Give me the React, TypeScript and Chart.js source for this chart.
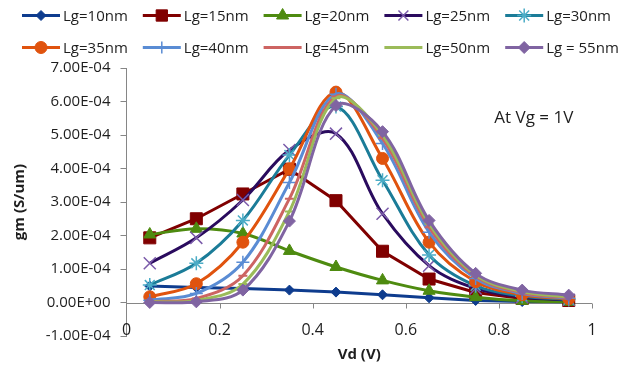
import React, { useEffect, useRef } from 'react';
import { Chart, registerables } from 'chart.js';

Chart.register(...registerables);

// Drain voltage Vd (V)
const vdValues = [0.05, 0.15, 0.25, 0.35, 0.45, 0.55, 0.65, 0.75, 0.85, 0.95];

// gm values, in units of 1E-04 S/um
const gmLg10 = [0.49, 0.45, 0.42, 0.37, 0.31, 0.23, 0.14, 0.06, 0.03, 0.02];
const gmLg15 = [1.93, 2.5, 3.24, 3.98, 3.04, 1.53, 0.7, 0.3, 0.12, 0.06];
const gmLg20 = [2.03, 2.2, 2.06, 1.54, 1.06, 0.66, 0.35, 0.16, 0.05, 0.02];
const gmLg25 = [1.17, 1.93, 3.06, 4.55, 5.04, 2.65, 1.1, 0.42, 0.16, 0.08];
const gmLg30 = [0.52, 1.17, 2.45, 4.4, 5.85, 3.65, 1.42, 0.5, 0.19, 0.09];
const gmLg35 = [0.17, 0.56, 1.8, 3.99, 6.28, 4.3, 1.8, 0.62, 0.23, 0.11];
const gmLg40 = [0.07, 0.27, 1.2, 3.58, 6.22, 4.75, 2.1, 0.72, 0.27, 0.13];
const gmLg45 = [0.03, 0.12, 0.8, 3.1, 6.15, 4.9, 2.25, 0.78, 0.3, 0.15];
const gmLg50 = [0.02, 0.06, 0.55, 2.72, 6.1, 5.0, 2.35, 0.82, 0.33, 0.17];
const gmLg55 = [0.0, 0.02, 0.37, 2.43, 5.88, 5.1, 2.45, 0.87, 0.37, 0.22];

const seriesLabels = [
  'Lg=10nm', 'Lg=15nm', 'Lg=20nm', 'Lg=25nm', 'Lg=30nm',
  'Lg=35nm', 'Lg=40nm', 'Lg=45nm', 'Lg=50nm', 'Lg = 55nm',
];
const seriesValues = [gmLg10, gmLg15, gmLg20, gmLg25, gmLg30, gmLg35, gmLg40, gmLg45, gmLg50, gmLg55];

const xTickLabels = ['0', '0.2', '0.4', '0.6', '0.8', '1'];
const yTickLabels = [
  '-1.00E-04', '0.00E+00', '1.00E-04', '2.00E-04', '3.00E-04',
  '4.00E-04', '5.00E-04', '6.00E-04', '7.00E-04',
];
const xTitle = 'Vd (V)';
const yTitle = 'gm (S/um)';
const annotationText = 'At Vg = 1V';

// Styling
const lineColors = ['#0E3C8E', '#800000', '#4E8B10', '#2A0B5E', '#1B7C98', '#E0530E', '#5A8CD4', '#CD6462', '#9BBB59', '#8064A2'];
const markerColors = ['#0E3C8E', '#800000', '#4E8B10', '#7B5BAA', '#4BACC6', '#E0530E', '#5A8CD4', '#CD6462', '#9BBB59', '#8064A2'];
const markerStyles = ['rectRot', 'rect', 'triangle', 'crossRot', 'star', 'circle', 'cross', 'line', 'line', 'rectRot'];
const markerRadii = [5, 8.5, 7, 8.5, 7, 6, 6.5, 4.5, 4.5, 6];
const markerBorders = [1, 1, 1, 1.5, 1.5, 1, 1.5, 2, 2, 1];
const lineTensions = [0, 0, 0.35, 0.35, 0.35, 0.35, 0.35, 0.35, 0.35, 0.35];
const legendMarkerRadii = [5, 8, 7, 7, 7, 6, 6, 0, 0, 6];

const FONT = "'Open Sans', sans-serif";
const TEXT_COLOR = '#1e1e1e';
const AXIS_COLOR = '#868686';

function drawMarker(ctx: CanvasRenderingContext2D, style: string, x: number, y: number, r: number, color: string, bw: number) {
  if (r <= 0) return;
  ctx.save();
  ctx.fillStyle = color;
  ctx.strokeStyle = color;
  ctx.lineWidth = bw;
  ctx.beginPath();
  const d = r * Math.SQRT1_2;
  switch (style) {
    case 'rectRot':
      ctx.moveTo(x, y - r); ctx.lineTo(x + r, y); ctx.lineTo(x, y + r); ctx.lineTo(x - r, y); ctx.closePath();
      ctx.fill(); ctx.stroke(); break;
    case 'rect':
      ctx.rect(x - d, y - d, 2 * d, 2 * d); ctx.fill(); ctx.stroke(); break;
    case 'triangle': {
      let a = 0;
      ctx.moveTo(x + Math.sin(a) * r, y - Math.cos(a) * r);
      a += (2 * Math.PI) / 3;
      ctx.lineTo(x + Math.sin(a) * r, y - Math.cos(a) * r);
      a += (2 * Math.PI) / 3;
      ctx.lineTo(x + Math.sin(a) * r, y - Math.cos(a) * r);
      ctx.closePath(); ctx.fill(); ctx.stroke(); break;
    }
    case 'circle':
      ctx.arc(x, y, r, 0, Math.PI * 2); ctx.fill(); ctx.stroke(); break;
    case 'crossRot':
      ctx.moveTo(x - d, y - d); ctx.lineTo(x + d, y + d); ctx.moveTo(x - d, y + d); ctx.lineTo(x + d, y - d); ctx.stroke(); break;
    case 'cross':
      ctx.moveTo(x, y - r); ctx.lineTo(x, y + r); ctx.moveTo(x - r, y); ctx.lineTo(x + r, y); ctx.stroke(); break;
    case 'star':
      ctx.moveTo(x, y - r); ctx.lineTo(x, y + r); ctx.moveTo(x - r, y); ctx.lineTo(x + r, y);
      ctx.moveTo(x - d, y - d); ctx.lineTo(x + d, y + d); ctx.moveTo(x - d, y + d); ctx.lineTo(x + d, y - d); ctx.stroke(); break;
    default:
      break;
  }
  ctx.restore();
}

const LEGEND_LEFT = 22;
const LEGEND_COL = 120.8;
const LEGEND_TOP = 15.5;
const LEGEND_ROW = 32;
const LEGEND_LINE = 38;

const legendPlugin = {
  id: 'excelLegend',
  afterDraw(chart: any) {
    const ctx: CanvasRenderingContext2D = chart.ctx;
    ctx.save();
    seriesLabels.forEach((label, i) => {
      const col = i % 5;
      const row = Math.floor(i / 5);
      const x0 = LEGEND_LEFT + col * LEGEND_COL;
      const y = LEGEND_TOP + row * LEGEND_ROW;
      ctx.strokeStyle = lineColors[i];
      ctx.lineWidth = 3;
      ctx.beginPath();
      ctx.moveTo(x0, y);
      ctx.lineTo(x0 + LEGEND_LINE, y);
      ctx.stroke();
      drawMarker(ctx, markerStyles[i], x0 + LEGEND_LINE / 2, y, legendMarkerRadii[i], markerColors[i], markerBorders[i]);
      ctx.font = `15px ${FONT}`;
      ctx.fillStyle = TEXT_COLOR;
      ctx.textAlign = 'left';
      ctx.textBaseline = 'middle';
      ctx.fillText(label, x0 + LEGEND_LINE + 3, y + 1);
    });
    ctx.restore();
  },
};

const zeroAxisPlugin = {
  id: 'zeroAxis',
  beforeDatasetsDraw(chart: any) {
    const { ctx, scales } = chart;
    const xs = scales.x;
    const ys = scales.y;
    const y0 = Math.round(ys.getPixelForValue(0)) + 0.5;
    ctx.save();
    ctx.strokeStyle = AXIS_COLOR;
    ctx.lineWidth = 1;
    ctx.beginPath();
    ctx.moveTo(xs.getPixelForValue(0), y0);
    ctx.lineTo(xs.getPixelForValue(1), y0);
    xs.ticks.forEach((t: any) => {
      if (t.value === 0) return;
      const px = Math.round(xs.getPixelForValue(t.value)) + 0.5;
      ctx.moveTo(px, y0);
      ctx.lineTo(px, y0 + 5);
    });
    ctx.stroke();
    ctx.restore();
  },
};

// x tick labels are drawn at the bottom of the plot (Excel "low" label position)
const xLabelsPlugin = {
  id: 'xLowLabels',
  afterDraw(chart: any) {
    const { ctx, scales } = chart;
    const xs = scales.x;
    const ys = scales.y;
    const yBase = ys.getPixelForValue(ys.min) - 6;
    ctx.save();
    ctx.font = `16px ${FONT}`;
    ctx.fillStyle = TEXT_COLOR;
    ctx.textAlign = 'center';
    ctx.textBaseline = 'middle';
    xs.ticks.forEach((t: any) => {
      const label = xTickLabels[Math.round(Number(t.value) * 5)];
      if (label === undefined) return;
      ctx.fillText(label, xs.getPixelForValue(t.value), yBase);
    });
    ctx.restore();
  },
};

const ANNOT_X = 0.875;
const ANNOT_Y = 5.5;

const annotationPlugin = {
  id: 'annot',
  afterDraw(chart: any) {
    const { ctx, scales } = chart;
    ctx.save();
    ctx.font = `17px ${FONT}`;
    ctx.fillStyle = TEXT_COLOR;
    ctx.textAlign = 'center';
    ctx.textBaseline = 'middle';
    ctx.fillText(annotationText, scales.x.getPixelForValue(ANNOT_X), scales.y.getPixelForValue(ANNOT_Y));
    ctx.restore();
  },
};

export default function App() {
  const canvasRef = useRef<HTMLCanvasElement | null>(null);

  useEffect(() => {
    const canvas = canvasRef.current;
    if (!canvas) return;
    const n = seriesValues.length;
    const chart = new Chart(canvas, {
      type: 'line',
      data: {
        datasets: seriesValues.map((vals, i) => ({
          label: seriesLabels[i],
          data: vdValues.map((x, j) => ({ x, y: vals[j] })),
          borderColor: lineColors[i],
          backgroundColor: markerColors[i],
          pointBackgroundColor: markerColors[i],
          pointBorderColor: markerColors[i],
          pointStyle: markerStyles[i] as any,
          pointRadius: markerRadii[i],
          pointBorderWidth: markerBorders[i],
          borderWidth: 3,
          tension: lineTensions[i],
          fill: false,
          order: n - i,
        })),
      },
      options: {
        responsive: false,
        animation: false,
        devicePixelRatio: 1,
        layout: { padding: { top: 68, right: 37, left: 0, bottom: 0 } },
        plugins: {
          legend: { display: false },
          tooltip: { enabled: false },
        },
        scales: {
          x: {
            type: 'linear',
            min: 0,
            max: 1,
            ticks: {
              stepSize: 0.2,
              display: false,
            },
            grid: { display: false, drawTicks: false },
            border: { display: false },
            title: {
              display: true,
              text: xTitle,
              color: TEXT_COLOR,
              font: { family: FONT, size: 15, weight: 'bold' },
              padding: { top: 0, bottom: 1 },
            },
            afterFit: (scale: any) => { scale.height = 29; },
          },
          y: {
            type: 'linear',
            min: -1,
            max: 7,
            ticks: {
              stepSize: 1,
              padding: 10,
              color: TEXT_COLOR,
              font: { family: FONT, size: 15 },
              callback: (v: any) => yTickLabels[Math.round(Number(v)) + 1] ?? '',
            },
            grid: { drawOnChartArea: false, drawTicks: true, tickLength: 6, color: AXIS_COLOR },
            border: { display: true, color: AXIS_COLOR, width: 1 },
            title: {
              display: true,
              text: yTitle,
              color: TEXT_COLOR,
              font: { family: FONT, size: 15, weight: 'bold' },
              padding: { top: 11, bottom: 0 },
            },
            afterFit: (scale: any) => { scale.width = 126.5; },
          },
        },
      } as any,
      plugins: [zeroAxisPlugin, xLabelsPlugin, annotationPlugin, legendPlugin],
    });
    return () => chart.destroy();
  }, []);

  return (
    <div style={{ position: 'fixed', left: 0, top: 0, width: 629, height: 365, background: '#fff' }}>
      <canvas ref={canvasRef} width={629} height={365} style={{ display: 'block', width: 629, height: 365 }} />
    </div>
  );
}
